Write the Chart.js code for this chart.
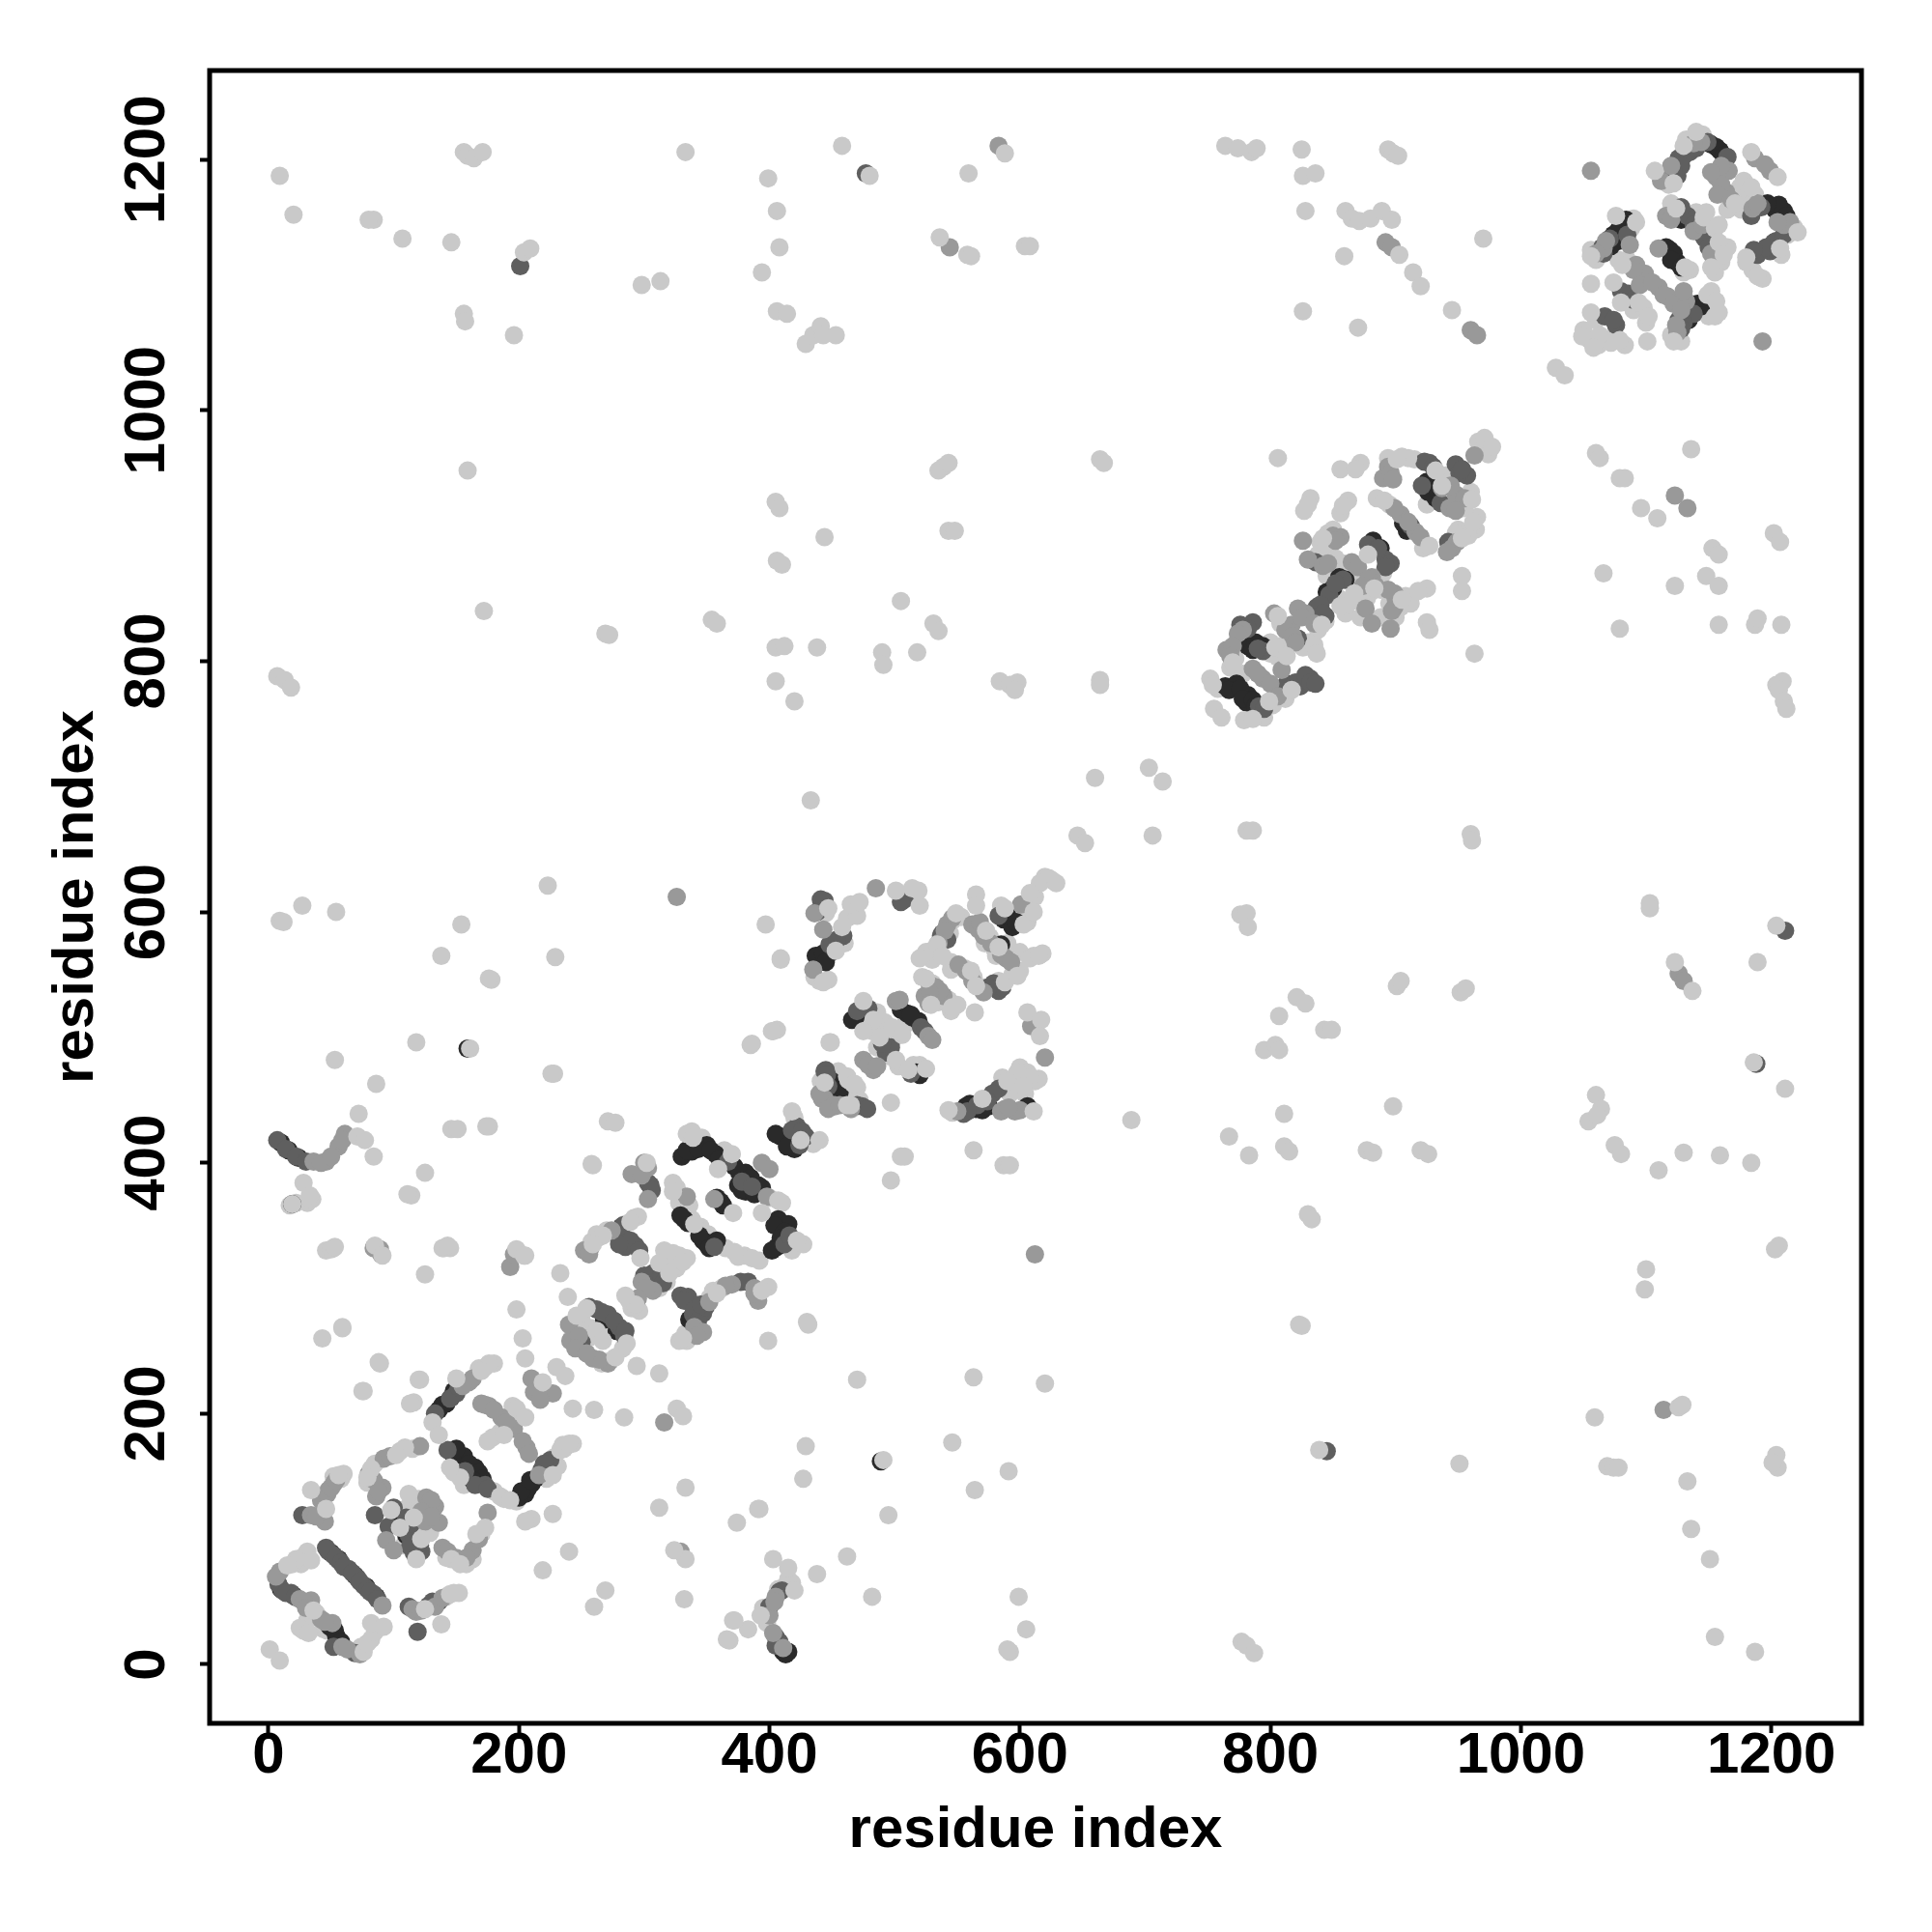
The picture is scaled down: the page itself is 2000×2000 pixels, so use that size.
<!DOCTYPE html>
<html>
<head>
<meta charset="utf-8">
<style>
  html, body { margin: 0; padding: 0; background: #fff; }
  #wrap { width: 2000px; height: 2000px; }
</style>
<script src="https://cdn.jsdelivr.net/npm/chart.js@4"></script>
</head>
<body>
<div id="wrap"><canvas id="contactMap" width="2000" height="2000"></canvas></div>
<script>
const axisTitle = 'residue index';
const tickValues = [0, 200, 400, 600, 800, 1000, 1200];

// [residue i, residue j], one list per grey level
const darkPoints = [
  [54,23],[142,208],[136,203],[156,166],[165,157],[205,136],[210,144],
  [330,405],[338,409],[350,414],[357,407],[372,397],[381,392],[375,382],[391,382],[381,377],
  [407,355],[415,351],[406,333],[347,338],[332,355],[361,369],[409,421],[420,411],[454,461],
  [440,563],[448,567],[587,594],[594,588],[561,445],[606,445],[510,519],[519,513],[470,518],[517,472],
  [925,943],[932,930],[909,904],[883,893],[782,812],[764,780],[773,782],[782,773],[781,767],
  [1156,1210],[1201,1163],[1210,1159],[1128,1152],[1081,1148],[1119,1128],[1125,1118],[1144,1083],[1133,1078],
  [415,10],[159,491],[19,367],[489,162],
  [50,89],[56,84],[69,71],[78,62],[86,54],[10,60],[20,55],[49,30],[53,27],[58,18],
  [105,113],[110,103],[118,87],[148,218],[139,207],[146,213],[147,168],[150,172],[160,160],[168,153],[171,148],[163,147],
  [200,133],[207,140],[213,148],[202,138],[209,147],[10,416],[16,410],[24,404],[268,275],[278,266],[282,349],[277,345],[336,275],[345,280],
  [334,410],[343,411],[353,410],[360,403],[376,392],[385,388],[378,378],[388,375],[394,380],[404,350],[412,345],[409,340],[402,330],
  [350,335],[344,342],[335,352],[329,358],[358,338],[352,332],[363,366],[358,372],[405,423],[414,413],[450,465],[456,456],
  [437,565],[443,567],[445,560],[452,571],[590,597],[597,592],[585,574],[565,443],[560,447],[570,442],[557,445],[575,445],
  [505,522],[514,516],[513,518],[466,514],[473,521],[520,470],[928,938],[926,935],[934,936],[906,910],[882,896],[888,890],
  [855,867],[850,858],[845,855],[860,865],[780,815],[786,809],[788,815],[794,812],[767,777],[776,778],[778,770],[786,769],[788,764],
  [1152,1212],[1159,1207],[1162,1203],[1203,1160],[1206,1164],[1197,1165],[1212,1155],[1130,1153],[1125,1155],[1078,1144],[1084,1152],[1074,1140],[1078,1135],[1072,1131],
  [1116,1130],[1122,1125],[1120,1120],[1128,1114],[1141,1085],[1138,1080],[1134,1072],[1128,1068],[411,10],[413,8]
];
const darkMidPoints = [
  [48,90],[52,87],[56,83],[64,76],[71,69],[76,63],[84,56],[11,59],[18,57],[52,14],[69,9],
  [112,46],[119,26],[27,119],[85,119],[112,103],[116,89],[122,90],
  [150,216],[143,171],[173,143],[165,143],[225,163],
  [262,283],[271,279],[280,269],[250,257],[305,382],[281,347],[293,334],[285,333],[307,312],[329,294],[335,293],[339,279],[347,280],[377,305],[383,305],
  [356,333],[412,335],[422,429],[429,421],[444,473],[474,445],
  [441,610],[459,581],[508,610],[537,581],[583,537],[583,459],[555,439],[479,523],[493,488],[445,474],
  [948,957],[957,948],[927,958],[892,881],[858,865],[847,853],[837,843],[844,836],[786,831],[822,818],[794,808],[813,782],[832,786],[824,780],[791,764],
  [1135,1206],[1126,1201],[1125,1187],[1149,1214],[1165,1202],[1184,1155],[1202,1134],[1189,1124],[1199,1127],
  [1133,1155],[1147,1137],[1071,1137],[1086,1093],[1067,1075],[1076,1068],[1138,1077],[1130,1070],
  [405,22],[410,59],[7,418],[14,411],[22,405],[477,1189],[845,170],[1188,479],[1211,585],[201,1115],
  [46,93],[54,85],[58,81],[60,78],[67,73],[73,66],[79,60],[81,58],[87,52],[8,64],[14,57],[21,54],
  [128,47],[131,50],[136,50],[110,117],[114,112],[121,95],[113,94],[100,125],[96,110],
  [145,212],[133,200],[152,221],[157,154],[175,140],[218,155],[220,160],[30,401],
  [256,285],[266,281],[276,274],[284,262],[285,266],[278,343],[283,350],[289,338],[280,335],[296,330],[303,384],[306,378],
  [310,308],[315,304],[300,310],[332,290],[340,283],[343,274],[349,285],[345,287],
  [367,401],[378,385],[386,381],[416,342],[418,426],[426,425],[424,414],[446,470],[470,446],[478,443],[447,461],[450,446],
  [448,574],[454,578],[444,609],[438,600],[510,612],[505,608],[583,597],[538,583],[542,578],[579,543],[586,540],[575,540],
  [578,455],[574,449],[566,446],[558,441],[470,521],[521,508],[524,505],[497,492],[490,495],[513,471],
  [951,950],[953,953],[923,959],[930,955],[921,940],[936,926],[912,908],[942,895],[836,879],[878,893],[896,878],[892,875],[886,890],
  [840,845],[852,862],[842,838],[776,829],[782,826],[790,810],[795,762],[812,780],[820,783],[828,789],[832,783],[836,782],
  [1130,1203],[1140,1209],[1128,1195],[1122,1190],[1192,1162],[1204,1135],[1210,1140],[1196,1130],[1186,1128],[1128,1162],[1138,1148],[1145,1140],[1150,1130],
  [1085,1140],[1066,1125],[1065,1130],[1080,1095],[1090,1088],[1074,1072],[1126,1072],[1128,1065],[408,18],[405,15],[400,46],[408,58]
];
const midPoints = [
  [9,74],[6,70],[25,52],[34,51],[42,36],[51,33],[59,14],[91,47],
  [133,46],[139,53],[118,42],[52,144],[48,139],[42,131],[34,119],[45,114],
  [92,164],[91,141],[86,134],[121,174],[126,133],[133,126],[136,113],[125,114],[94,99],[100,91],
  [139,93],[163,91],[175,121],[163,228],[216,151],[170,208],[176,206],[186,197],[196,188],[206,173],
  [89,331],[193,317],[316,193],[329,90],[210,228],[212,217],[227,216],[217,211],
  [241,258],[240,271],[271,240],[259,244],[303,396],[290,391],[303,371],[257,332],[298,305],[307,298],[352,289],[340,269],[370,303],[391,290],
  [398,373],[394,400],[400,395],[334,373],[356,371],[444,451],[452,446],
  [485,619],[436,599],[443,586],[435,554],[601,606],[542,590],[562,590],[571,581],[589,563],[571,536],[533,540],[539,533],[524,533],
  [596,441],[588,443],[609,509],[620,484],[501,529],[527,501],[475,482],[483,474],[442,451],[452,445],
  [963,964],[894,955],[890,946],[948,933],[943,922],[945,890],[904,917],[916,903],[856,899],[826,896],[830,881],[842,876],
  [865,879],[881,867],[876,842],[881,830],[896,826],[899,854],[899,843],[828,838],[778,825],[817,829],[765,809],[786,794],[794,786],[809,793],
  [1056,1191],[1193,1055],[1144,1214],[1112,1183],[1156,1186],[1164,1174],[1166,1191],[1187,1201],[1199,1191],[1185,1161],[1189,1165],[1210,1148],
  [1116,1155],[1138,1143],[1087,1132],[1066,1129],[1110,1129],[1092,1116],[1099,1109],[1110,1098],[1117,1091],[1125,1062],[1132,1087],
  [400,39],[405,54],[411,13],[36,401],[46,401],[56,413],[61,423],[84,332],[90,327],[196,327],[326,612],[612,327],
  [1114,203],[1123,932],[1133,922],[1126,551],[1130,545],[892,1134],[897,1130],[544,1130],[583,1211],[960,1064],[965,1060],
  [28,50],[30,45],[45,34],[63,12],[73,8],[115,44],[122,43],[47,136],[50,141],[54,147],[38,118],[84,147],[80,152],[88,138],[97,166],
  [128,129],[130,131],[122,122],[130,118],[143,90],[150,85],[158,85],[168,100],[160,225],[155,222],[173,207],[180,203],[190,193],[203,178],[208,168],
  [42,400],[50,405],[59,418],[248,262],[245,252],[264,243],[254,248],[274,346],[252,330],[256,327],[300,400],[298,390],
  [302,300],[295,292],[347,265],[342,262],[365,302],[388,296],[388,300],[440,455],[447,443],[456,446],[465,443],
  [546,595],[540,585],[535,575],[567,586],[577,575],[585,566],[593,560],[568,592],[557,553],[562,545],[551,558],[528,542],[536,537],[528,536],[527,527],
  [550,441],[600,442],[585,441],[591,444],[530,498],[504,530],[479,478],[486,477],
  [896,950],[898,945],[937,938],[955,930],[948,920],[949,895],[941,887],[899,922],[910,911],[920,899],[944,940],[850,900],[852,896],[846,878],
  [870,875],[878,865],[884,860],[874,860],[822,842],[825,835],[835,830],[900,850],[894,857],[897,840],[774,822],[770,812],[812,825],[818,820],[820,815],[803,838],
  [768,804],[790,790],[800,782],[806,772],
  [1120,1195],[1138,1213],[1160,1195],[1160,1180],[1152,1190],[1157,1172],[1168,1168],[1195,1196],[1215,1150],[1205,1150],[1120,1152],[1145,1148],[1152,1125],
  [1090,1112],[1095,1100],[1105,1102],[1114,1092],[1122,1085],[1068,1135],[1060,1125],[1130,1095],[1124,1068],[1128,1080],[403,25],[404,50]
];
const lightPoints = [
  [1,12],[9,3],[31,90],[34,83],[22,84],[15,79],[36,43],[76,10],[79,17],[85,26],[82,33],[92,30],[25,29],[32,25],
  [125,44],[145,56],[152,57],[138,32],[56,151],[34,139],[46,124],
  [82,156],[79,149],[109,173],[102,167],[112,136],[98,123],[105,109],[116,117],[122,100],[118,84],[146,84],[153,80],[173,109],[166,104],
  [176,240],[170,234],[150,228],[131,193],[136,183],[153,149],[145,157],[185,134],[193,131],[227,151],[233,171],[240,176],[198,204],[205,197],[179,181],[188,183],
  [125,392],[114,374],[111,375],[52,332],[46,330],[85,334],[91,326],[139,332],[145,332],[125,311],[198,331],[205,326],[233,312],[239,293],[198,283],[203,260],[205,244],
  [59,269],[43,260],[89,240],[121,227],[76,218],[116,209],[219,225],[230,237],[237,230],[243,204],[260,203],[284,197],[326,204],[331,198],[312,232],[294,238],
  [333,141],[312,125],[392,124],[374,113],[333,84],[324,91],[240,90],[219,75],[269,59],[260,46],[332,52],[371,35],[383,28],[368,19],[259,398],[210,116],[227,120],[205,114],
  [19,367],[28,384],[35,371],[178,546],[176,429],[228,471],[385,494],[403,505],[448,496],[271,433],[277,432],[258,399],
  [286,256],[277,245],[246,278],[254,284],[262,266],[267,258],
  [295,357],[289,353],[267,342],[259,335],[297,324],[302,400],
  [323,328],[331,321],[312,320],[320,312],[293,287],[285,294],[358,296],[331,260],[399,301],[394,298],
  [334,423],[339,420],[370,407],[407,370],[422,338],[386,324],[372,329],[340,351],[323,384],[323,377],[359,395],[394,360],[371,360],
  [418,441],[440,418],[425,418],[444,464],[463,466],[467,463],[462,446],
  [447,603],[443,544],[453,569],[458,588],[470,597],[465,606],[472,608],[409,562],[406,506],
  [501,617],[514,619],[520,605],[519,617],[565,614],[565,605],[623,627],[616,623],[608,615],[629,623],[588,603],[603,590],[611,600],
  [549,599],[534,574],[573,585],[583,572],[608,563],[615,565],[520,563],[538,565],[561,553],[565,541],[588,544],[598,549],[525,547],[546,524],[529,526],[564,520],
  [606,520],[617,514],[616,501],[608,468],[598,472],[590,465],[570,451],[543,442],[611,441],[603,461],
  [475,529],[483,514],[498,508],[506,502],[488,500],[475,505],[501,482],[511,474],[525,475],[449,496],[497,448],[462,469],[468,463],[465,446],
  [806,962],[856,953],[868,953],[830,925],[858,924],[971,978],[977,971],[910,962],[901,961],[932,952],[937,940],[961,929],[962,911],[953,898],[891,928],[927,892],
  [842,898],[878,885],[883,858],[867,854],[856,844],[841,829],[905,849],[925,858],[918,856],[953,868],[953,856],[925,831],[927,825],[963,806],
  [806,836],[835,813],[837,806],[804,811],[813,804],[770,799],[817,777],[754,781],[799,768],[755,762],[761,755],[779,753],[786,754],
  [1140,1222],[1130,1211],[1107,1191],[1122,1181],[1178,1183],[1184,1178],[1171,1165],[1184,1206],[1205,1186],[1221,1142],[1207,1129],[1180,1122],[1189,1107],
  [1124,1161],[1146,1154],[1155,1145],[1158,1134],[1162,1124],[1152,1114],[1092,1150],[1076,1155],[1056,1123],[1131,1114],[1081,1116],
  [1056,1101],[1074,1102],[1080,1086],[1094,1086],[1102,1075],[1056,1078],[1063,1060],[1049,1059],[1058,1050],[1079,1056],[1101,1055],
  [1149,1092],[1156,1087],[1155,1075],[1122,1055],[1028,1034],[1035,1028],
  [9,1187],[20,1156],[84,1152],[80,1152],[107,1137],[146,1134],[156,1206],[159,1203],[164,1201],[171,1206],[204,1126],[209,1129],[156,1077],[157,1071],[196,1060],
  [298,1100],[313,1103],[333,1206],[399,1185],[406,1159],[408,1130],[394,1110],[406,1079],[414,1077],[429,1053],[435,1060],[441,1067],[443,1060],[453,1060],[458,1211],[480,1187],
  [559,1189],[536,1138],[558,1124],[561,1123],[604,1131],[608,1131],[588,1205],[764,1211],[774,1209],[785,1206],[789,1209],[825,1208],[826,1187],[836,1189],[828,1159],
  [860,1159],[865,1153],[871,1151],[880,1153],[889,1159],[897,1152],[859,1123],[894,1208],[898,1205],[902,1203],[903,1124],[914,1110],[920,1099],[945,1080],[970,1137],[826,1079],[870,1066],
  [1060,966],[1063,962],[1079,946],[1083,946],[1136,969],[1096,922],[1109,914],[1153,890],[1158,885],[1148,868],[1158,860],[1066,870],[1079,826],[1123,860],[1158,829],[1187,829],[1189,834],
  [1202,902],[1207,895],[1208,829],[1204,781],[1209,784],[1206,777],[1210,768],[1212,762],
  [159,952],[405,927],[408,922],[406,880],[410,877],[444,899],[172,840],[539,955],[535,952],[543,958],[543,904],[548,904],[664,961],[667,958],
  [354,833],[358,830],[269,822],[272,821],[405,811],[412,812],[438,811],[490,807],[491,797],[505,848],[518,807],[531,830],[535,824],[405,784],[420,768],
  [584,784],[592,781],[598,783],[596,777],[664,785],[664,781],[7,788],[13,785],[18,779],
  [660,707],[703,715],[714,704],[433,689],[706,661],[646,661],[652,655],[781,665],[786,665],[960,662],[961,657],[776,598],[781,599],[782,588],[1103,607],[1103,603],[1204,589],
  [1123,560],[1137,537],[1189,560],[901,541],[904,545],[952,536],[956,539],[821,532],[828,527],[807,517],[843,506],[849,506],[795,490],[804,494],[807,490],[1186,480],[1211,459],
  [1060,454],[1064,443],[1054,433],[1061,438],[898,445],[811,439],[689,434],[767,421],[783,406],[811,413],[815,409],[877,410],[882,408],[920,410],[926,407],
  [1075,414],[1080,407],[1110,394],[1130,408],[1159,406],[1184,400],[830,359],[833,355],[1206,334],[1203,331],[1100,315],[1099,299],[823,271],[825,270],[839,171],[951,160],
  [1126,205],[1129,207],[1059,197],[1069,158],[1074,157],[1078,157],[1204,167],[1205,157],[1201,161],[1133,146],[1136,108],[1151,84],[1155,22],[1187,10],
  [563,229],[620,224],[470,227],[546,177],[591,154],[564,139],[491,163],[429,174],[427,148],[495,119],[391,124],[462,86],[482,54],[438,72],[599,54],[605,28],[592,10],[590,12],
  [777,18],[781,15],[787,9],[71,421],[77,418],[84,405],[72,439],[86,463],[53,482],[54,600],[9,593],[12,592],[27,605],[33,374],
  [154,590],[138,565],[176,547],[223,621],[229,564],[118,496],[161,491],[226,471],[146,427],[151,427],[174,429],[50,331],[53,333],[140,332],[143,334],[204,326],
  [59,268],[88,241],[75,218],[120,227],[113,208],[366,20],[372,35],[397,590],[409,563],[402,505],[386,495],[399,258],[430,273],[431,271],
  [563,410],[587,398],[592,398],[497,386],[505,405],[508,405],[403,84],[415,77],[420,59],[393,39]
];
// light discs that sit underneath the darker ones
const lightUnderPoints = [
  [40,38],[38,41],[44,28],[47,27],[72,10],[74,14],[82,20],[87,29],[28,27],[31,35],[35,38],[26,80],[19,80],[28,86],[148,57],[142,54],[58,148],[60,152],[52,150],
  [79,145],[81,150],[85,160],[105,170],[115,172],[108,120],[102,115],[111,125],[116,128],[120,132],[125,110],[129,105],[114,100],[108,95],[142,85],[158,80],[163,84],[170,104],
  [173,237],[168,236],[180,240],[150,160],[158,150],[148,153],[156,143],[180,138],[188,132],[198,130],[231,158],[228,165],[236,172],[238,174],[222,148],[235,175],[243,176],
  [200,200],[195,206],[185,185],[175,178],[190,190],[31,368],[22,368],[17,366],
  [250,275],[258,268],[283,252],[273,242],[266,240],[247,268],[243,263],[255,260],[268,270],[292,356],[285,351],[263,340],[255,332],[258,337],[262,343],[270,346],
  [316,330],[322,322],[328,326],[334,324],[317,316],[326,316],[318,305],[312,300],[288,290],[296,282],[290,284],[334,258],[328,258],[333,264],[355,298],[362,300],[352,292],
  [338,425],[346,420],[364,410],[400,372],[410,368],[392,322],[380,326],[365,332],[375,325],[420,336],[418,330],[427,335],[345,349],[338,355],[351,343],[326,380],[328,368],[336,366],
  [420,436],[435,415],[458,470],[470,460],[455,473],[441,465],[462,453],[466,443],[472,450],[445,599],[460,575],[462,595],[440,545],[447,546],[436,548],[515,615],
  [620,628],[626,625],[612,612],[601,605],[598,595],[585,605],[606,592],[607,597],[553,596],[546,593],[544,583],[537,578],[531,570],[576,580],[580,570],[590,575],[600,568],[572,575],[581,565],
  [611,565],[618,567],[530,562],[525,568],[545,560],[556,555],[563,548],[570,540],[583,545],[594,550],[600,553],[545,554],[530,543],[535,528],[543,530],[522,548],[545,521],[550,526],
  [600,476],[606,472],[612,465],[615,467],[594,465],[586,468],[604,455],[546,440],[592,455],[478,510],[486,520],[490,505],[500,500],[492,512],[508,510],[486,492],[495,485],[503,477],[515,478],[520,478],[482,505],
  [905,963],[915,961],[894,962],[960,935],[955,925],[965,915],[964,905],[958,900],[925,925],[922,890],[885,930],[895,925],[940,948],[930,945],[950,905],[948,902],[955,922],[966,975],[974,965],
  [850,905],[840,895],[846,902],[872,958],[827,920],[832,930],[862,928],[856,918],[838,885],[846,885],[852,882],[858,878],[868,870],[852,870],[845,868],
  [880,855],[885,865],[890,870],[877,850],[888,857],[870,848],[860,838],[861,845],[855,850],[872,835],[888,835],[838,825],[844,832],[904,843],[908,852],[912,846],[900,835],[895,846],
  [800,815],[808,812],[812,807],[800,806],[806,803],[826,811],[830,815],[836,808],[808,830],[758,778],[752,786],[768,795],[772,802],[778,790],[802,765],[812,770],[795,755],
  [1132,1216],[1145,1220],[1112,1186],[1118,1180],[1176,1160],[1180,1170],[1175,1178],[1165,1160],[1172,1172],[1187,1172],[1182,1163],[1218,1146],[1213,1140],[1208,1124],[1205,1135],[1185,1112],[1193,1105],[1180,1118],[1185,1125],
  [1148,1158],[1120,1165],[1127,1158],[1140,1158],[1158,1148],[1156,1130],[1165,1130],[1160,1118],[1155,1110],[1090,1153],[1088,1145],[1060,1120],[1056,1128],[1085,1120],[1078,1120],[1090,1080],[1098,1082],[1100,1070],[1135,1112],[1130,1110],
  [1060,1072],[1050,1064],[1062,1052],[1075,1060],[1083,1052],[1072,1054],[1055,1056],[1148,1086],[1152,1095],[1150,1075],[1158,1078],[1120,1060],[1128,1055],[412,62],[407,60],[418,65],[415,68],[395,45],[398,33]
];

// full frame round the plot, R style
const framePlugin = {
  id: 'frame',
  afterDraw(chart) {
    const { ctx, chartArea: a } = chart;
    ctx.save();
    ctx.strokeStyle = '#000';
    ctx.lineWidth = 5;
    ctx.strokeRect(a.left, a.top, a.right - a.left, a.bottom - a.top);
    ctx.restore();
  }
};

function greyLayer(points, colour) {
  return {
    data: points,
    backgroundColor: colour,
    borderWidth: 0,
    pointRadius: 9.5,
    pointHoverRadius: 9.5
  };
}

const font = { family: '"Liberation Sans"', size: 60, weight: 'bold' };
const tickGrid = { drawOnChartArea: false, drawTicks: true, tickLength: 10, tickColor: '#000', tickWidth: 4 };

new Chart(document.getElementById('contactMap'), {
  type: 'scatter',
  data: {
    // first dataset is painted last, so it ends up on top
    datasets: [
      greyLayer(lightPoints, '#c9c9c9'),
      greyLayer(midPoints, '#999999'),
      greyLayer(darkMidPoints, '#5f5f5f'),
      greyLayer(darkPoints, '#2a2a2a'),
      greyLayer(lightUnderPoints, '#c9c9c9')
    ]
  },
  plugins: [framePlugin],
  options: {
    responsive: false,
    animation: false,
    layout: { padding: { top: 73, right: 73, left: 0, bottom: 0 } },
    plugins: { legend: { display: false }, tooltip: { enabled: false } },
    scales: {
      x: {
        type: 'linear',
        min: -47,
        max: 1272,
        afterFit(scale) { scale.height = 216; },
        afterBuildTicks(scale) { scale.ticks = tickValues.map(v => ({ value: v })); },
        grid: tickGrid,
        border: { display: false },
        ticks: { color: '#000', font, padding: -12, maxRotation: 0, minRotation: 0, autoSkip: false, callback: v => String(v) },
        title: { display: true, text: axisTitle, color: '#000', font, padding: { top: 10, bottom: 69 } }
      },
      y: {
        type: 'linear',
        min: -47,
        max: 1271,
        afterFit(scale) { scale.width = 217; },
        afterBuildTicks(scale) { scale.ticks = tickValues.map(v => ({ value: v })); },
        grid: tickGrid,
        border: { display: false },
        ticks: { color: '#000', font, padding: -13, minRotation: 90, maxRotation: 90, crossAlign: 'center', autoSkip: false, callback: v => String(v) },
        title: { display: true, text: axisTitle, color: '#000', font, padding: { top: 43, bottom: 0 } }
      }
    }
  }
});
</script>
</body>
</html>
